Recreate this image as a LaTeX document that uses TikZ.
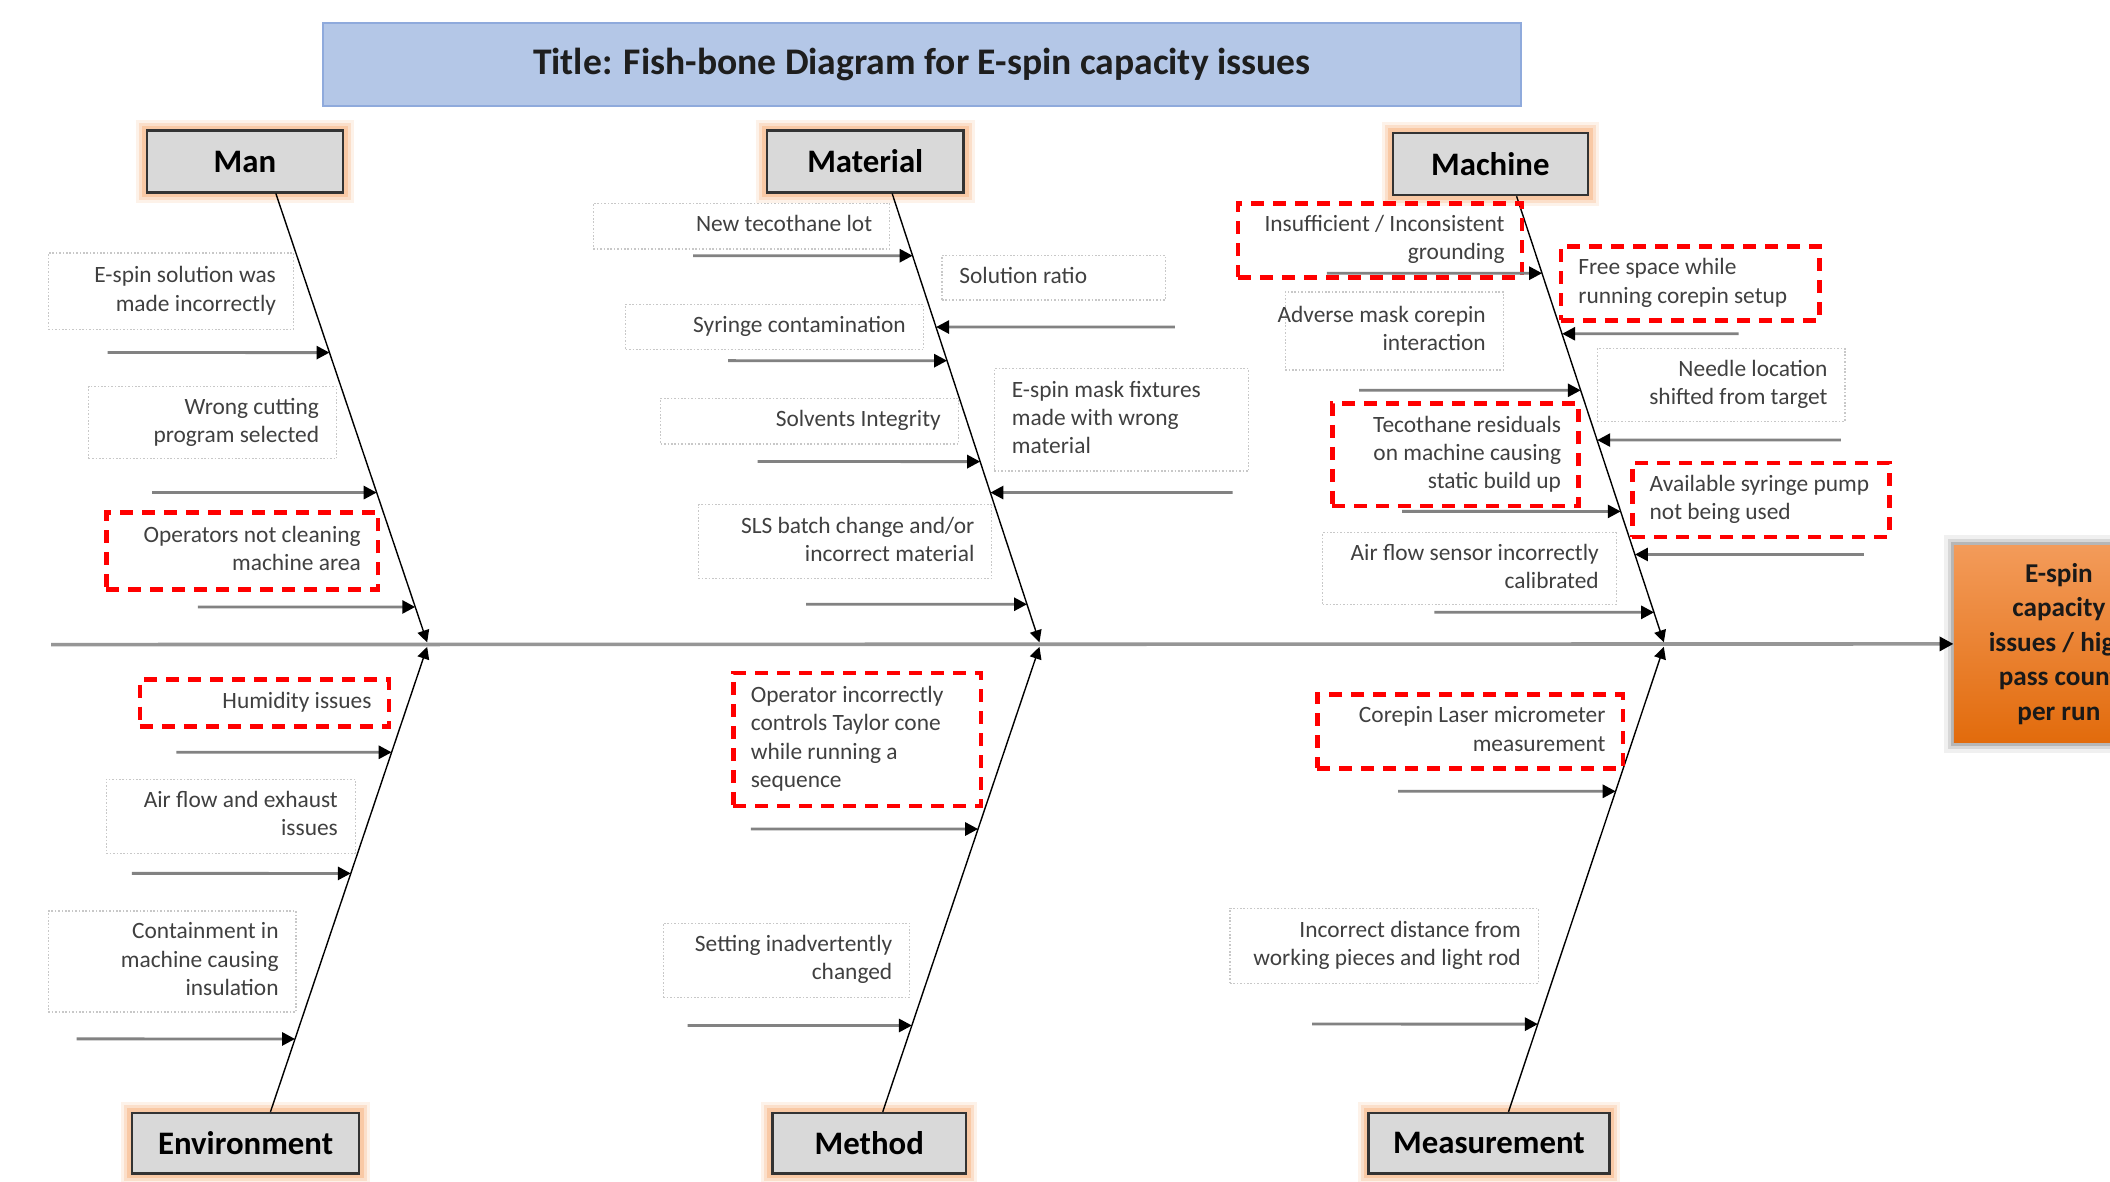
\documentclass[tikz,border=0pt]{standalone}
\usepackage{fontspec}
\setmainfont{Carlito}
\usetikzlibrary{arrows.meta}
\newlength\upx
\setlength\upx{0.6729pt}
\newcommand\lblfont{\fontsize{11.7}{14.1}\selectfont}
\newcommand\catfont{\fontsize{16.4}{19}\selectfont\bfseries}
\newcommand\rtxt[2]{\makebox[\dimexpr#1\upx-17.4pt\relax][r]{\begin{tabular}{@{}r@{}}#2\end{tabular}}}
\newcommand\ltxt[2]{\makebox[\dimexpr#1\upx-17.4pt\relax][l]{\begin{tabular}{@{}l@{}}#2\end{tabular}}}
\newcommand\causearrow[5]{%
  \coordinate (#1s) at (#2,#3);
  \coordinate (#1e) at (intersection of #4--#5 and 0,#3--1,#3);
  \draw[causeline] (#1s) -- (#1e);}
\definecolor{titlefill}{RGB}{180,199,231}
\definecolor{titledraw}{RGB}{143,170,220}
\definecolor{catfill}{RGB}{217,217,217}
\definecolor{glowc}{RGB}{247,170,110}
\definecolor{txtc}{RGB}{64,64,64}
\definecolor{dotc}{RGB}{200,200,200}
\definecolor{spinec}{RGB}{150,150,150}
\definecolor{causec}{RGB}{130,130,130}
\definecolor{efftop}{RGB}{243,155,90}
\definecolor{effbot}{RGB}{226,107,12}
\definecolor{redc}{RGB}{255,0,0}
\tikzset{
  hgt/.style={minimum height=#1*0.6729pt},
  dotbox/.style={draw=dotc, line width=0.6pt, dash pattern=on 0.8pt off 0.9pt,
    inner xsep=8.7pt, inner ysep=0pt, text=txtc, font=\lblfont},
  redbox/.style={draw=redc, line width=2.3pt, dash pattern=on 6.5pt off 4.5pt,
    inner xsep=8.7pt, inner ysep=0pt, text=txtc, font=\lblfont},
  catbox/.style={draw=black!80, line width=1.1pt, fill=catfill, font=\catfont,
    minimum height=46*0.6729pt, inner sep=0pt,
    preaction={draw=glowc, line width=11pt, draw opacity=.15, rounded corners=4pt},
    preaction={draw=glowc, line width=8pt, draw opacity=.25, rounded corners=3pt},
    preaction={draw=glowc, line width=5pt, draw opacity=.4, rounded corners=2pt}},
  bone/.style={draw=black, line width=0.7pt, shorten >=1.2pt,
    -{Triangle[length=6pt,width=6pt]}},
  causeline/.style={draw=causec, line width=1.4pt,
    -{Triangle[length=6.5pt,width=6.5pt,color=black]}},
  spineline/.style={draw=spinec, line width=1.8pt,
    -{Triangle[length=7pt,width=7pt,color=black]}},
}
\begin{document}
\begin{tikzpicture}[x=0.6729pt, y=-0.6729pt]
\useasboundingbox (0,0) rectangle (1568,878);
\clip (0,0) rectangle (1568,878);
\fill[white] (0,0) rectangle (1568,878);

% title
\node[draw=titledraw, line width=1pt, fill=titlefill, minimum width=890*0.6729pt,
  minimum height=62*0.6729pt, font=\fontsize{18.8}{22}\selectfont\bfseries,
  text={rgb,255:red,30;green,30;blue,30}] (title) at (685,48)
  {Title: Fish-bone Diagram for E-spin capacity issues};

% effect
\node[minimum width=156*0.6729pt, minimum height=147*0.6729pt, inner sep=0pt,
  top color=efftop, bottom color=effbot, align=center,
  font=\fontsize{13.6}{17.2}\selectfont\bfseries, text=black!90,
  preaction={draw=black, line width=10pt, draw opacity=.06, rounded corners=4pt},
  preaction={draw=black, line width=6pt, draw opacity=.1, rounded corners=2pt},
  preaction={draw=black, line width=3pt, draw opacity=.15}] (effect) at (1530,478.5)
  {E-spin\\capacity\\issues / high\\pass count\\per run};

% categories
\node[catbox, minimum width=146*0.6729pt] (man) at (182,120) {Man};
\node[catbox, minimum width=146*0.6729pt] (material) at (643,120) {Material};
\node[catbox, minimum width=145*0.6729pt] (machine) at (1107.5,122) {Machine};
\node[catbox, minimum width=169*0.6729pt, minimum height=45*0.6729pt] (environment) at (182.5,849.5) {Environment};
\node[catbox, minimum width=144*0.6729pt, minimum height=45*0.6729pt] (method) at (646,849.5) {Method};
\node[catbox, minimum width=179*0.6729pt, minimum height=45*0.6729pt] (measurement) at (1106.5,849.5) {Measurement};

% spine
\coordinate (spinestart) at (38,479);
\draw[spineline] (spinestart) -- (effect.west);

% junctions on the spine and bone ends
\coordinate (j1) at (318,479);
\coordinate (j2) at (773,479);
\coordinate (j3) at (1237,479);
\coordinate (manb) at (man.south -| 205,0);
\coordinate (envb) at (environment.north -| 201,0);
\coordinate (matb) at (material.south -| 663,0);
\coordinate (metb) at (method.north -| 656,0);
\coordinate (macb) at (machine.south -| 1127,0);
\coordinate (measb) at (measurement.north -| 1121,0);

\draw[bone] (manb) -- (j1);
\draw[bone] (envb) -- (j1);
\draw[bone] (matb) -- (j2);
\draw[bone] (metb) -- (j2);
\draw[bone] (macb) -- (j3);
\draw[bone] (measb) -- (j3);

% ---- Man
\node[dotbox, hgt=57] (c1) at (127,216.5) {\rtxt{182}{E-spin solution was\\made incorrectly}};
\causearrow{a1}{80}{262}{manb}{j1}
\node[dotbox, hgt=54] (c2) at (158,314) {\rtxt{184}{Wrong cutting\\program selected}};
\causearrow{a2}{113}{366}{manb}{j1}
\node[redbox, hgt=57] (c3) at (180,409.5) {\rtxt{202}{Operators not cleaning\\machine area}};
\causearrow{a3}{147}{451}{manb}{j1}

% ---- Environment
\node[redbox, hgt=35] (c4) at (196.5,522.5) {\rtxt{185}{Humidity issues}};
\causearrow{a4}{131}{559}{envb}{j1}
\node[dotbox, hgt=55] (c5) at (171.5,606.5) {\rtxt{185}{Air flow and exhaust\\issues}};
\causearrow{a5}{98}{649}{envb}{j1}
\node[dotbox, hgt=75] (c6) at (128,714.5) {\rtxt{184}{Containment in\\machine causing\\insulation}};
\causearrow{a6}{57}{772}{envb}{j1}

% ---- Material
\node[dotbox, hgt=34] (c7) at (551,168) {\rtxt{220}{New tecothane lot}};
\causearrow{a7}{515}{190}{matb}{j2}
\node[dotbox, hgt=33] (c8) at (783,206.5) {\ltxt{166}{Solution ratio}};
\causearrow{a8}{873}{243}{matb}{j2}
\node[dotbox, hgt=34] (c9) at (575.5,243) {\rtxt{221}{Syringe contamination}};
\causearrow{a9}{541}{268}{matb}{j2}
\node[dotbox, hgt=76] (c10) at (833.5,312) {\ltxt{189}{E-spin mask fixtures\\made with wrong\\material}};
\causearrow{a10}{916}{366}{matb}{j2}
\node[dotbox, hgt=34] (c11) at (601.5,313) {\rtxt{221}{Solvents Integrity}};
\causearrow{a11}{563}{343}{matb}{j2}
\node[dotbox, hgt=55] (c12) at (628,402.5) {\rtxt{218}{SLS batch change and/or\\incorrect material}};
\causearrow{a12}{599}{449}{matb}{j2}

% ---- Method
\node[redbox, hgt=99] (c13) at (637,549.5) {\ltxt{184}{Operator incorrectly\\controls Taylor cone\\while running a\\sequence}};
\causearrow{a13}{558}{616}{metb}{j2}
\node[dotbox, hgt=55] (c14) at (584.5,713.5) {\rtxt{183}{Setting inadvertently\\changed}};
\causearrow{a14}{511}{762}{metb}{j2}

% ---- Machine
\node[redbox, hgt=55] (c15) at (1025.5,178.5) {\rtxt{211}{Insufficient / Inconsistent\\grounding}};
\causearrow{a15}{986}{203}{macb}{j3}
\node[redbox, hgt=55] (c16) at (1256,210.5) {\ltxt{192}{Free space while\\running corepin setup}};
\causearrow{a16}{1292}{248}{macb}{j3}
\node[dotbox, hgt=58] (c17) at (1036,246) {\rtxt{162}{Adverse mask corepin\\interaction}};
\causearrow{a17}{1010}{290}{macb}{j3}
\node[dotbox, hgt=54] (c18) at (1279,286) {\rtxt{184}{Needle location\\shifted from target}};
\causearrow{a18}{1368}{327}{macb}{j3}
\node[redbox, hgt=76] (c19) at (1081.5,338) {\rtxt{183}{Tecothane residuals\\on machine causing\\static build up}};
\causearrow{a19}{1042}{380}{macb}{j3}
\node[redbox, hgt=55] (c20) at (1308.5,371.5) {\ltxt{191}{Available syringe pump\\not being used}};
\causearrow{a20}{1385}{412}{macb}{j3}
\node[dotbox, hgt=53] (c21) at (1092,422.5) {\rtxt{218}{Air flow sensor incorrectly\\calibrated}};
\causearrow{a21}{1066}{455}{macb}{j3}

% ---- Measurement
\node[redbox, hgt=55] (c22) at (1092.5,543.5) {\rtxt{227}{Corepin Laser micrometer\\measurement}};
\causearrow{a22}{1039}{588}{measb}{j3}
\node[dotbox, hgt=56] (c23) at (1028.5,703) {\rtxt{229}{Incorrect distance from\\working pieces and light rod}};
\causearrow{a23}{975}{761}{measb}{j3}
\end{tikzpicture}
\end{document}
